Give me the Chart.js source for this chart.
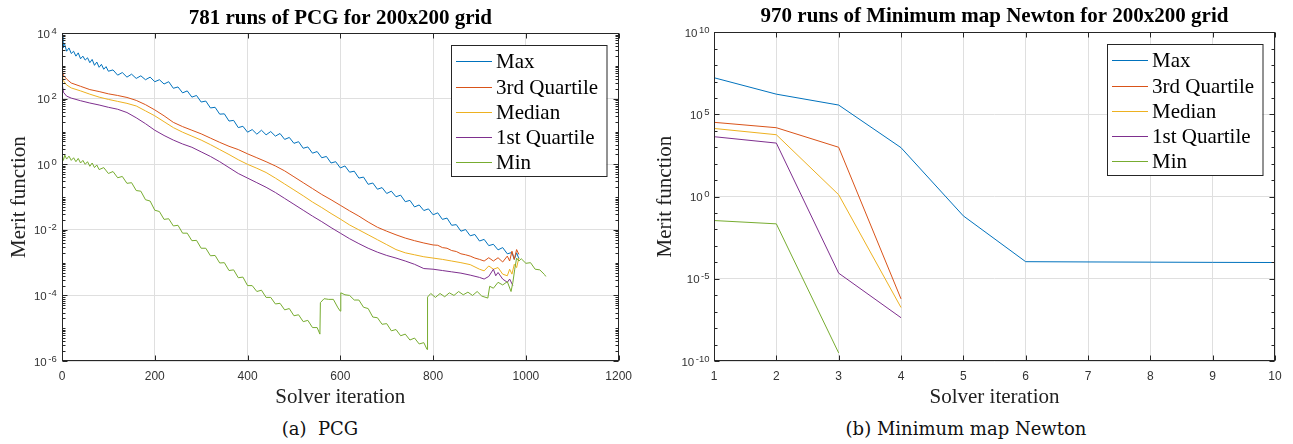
<!DOCTYPE html>
<html>
<head>
<meta charset="utf-8">
<script src="https://cdn.jsdelivr.net/npm/chart.js@4.4.0/dist/chart.umd.min.js"></script>
<style>
  html, body { margin: 0; padding: 0; background: #fff; }
  body { width: 1293px; height: 444px; position: relative; overflow: hidden; }
  #wrapA { position: absolute; left: 0; top: 0; width: 640px; height: 410px; }
  #wrapB { position: absolute; left: 640px; top: 0; width: 653px; height: 410px; }
  .caption { position: absolute; top: 420px; font: 18px/18px "DejaVu Serif", serif; color: #111; text-align: center; white-space: pre; }
</style>
</head>
<body>
<div id="wrapA"><canvas id="pcgChart" width="640" height="410"></canvas></div>
<div id="wrapB"><canvas id="newtonChart" width="653" height="410"></canvas></div>
<div class="caption" style="left:220px;width:200px">(a)  PCG</div>
<div class="caption" style="left:816px;width:300px">(b) Minimum map Newton</div>
<script>
// ---- data ----
// PCG: [solver iteration, log10(merit function)]
const pcgMax = [[0,3.95],[2,3.55],[5,3.7],[10,3.45],[15,3.55],[20,3.38],[25,3.45],[30,3.3],[35,3.4],[40,3.22],[45,3.3],[50,3.18],[55,3.25],[60,3.1],[65,3.2],[70,3.02],[75,3.12],[80,2.96],[85,3.05],[90,2.9],[95,2.98],
  [100,2.84],[110,2.88],[120,2.72],[130,2.8],[140,2.66],[150,2.75],[160,2.62],[170,2.7],[180,2.58],[190,2.66],[200,2.52],[210,2.58],[220,2.45],[230,2.52],[240,2.32],[250,2.36],[260,2.18],[270,2.24],[280,2.05],[290,2.1],
  [300,1.9],[310,1.93],[320,1.72],[330,1.74],[340,1.53],[350,1.54],[360,1.32],[370,1.34],[380,1.12],[390,1.16],[400,0.98],[410,1.06],[420,0.92],[430,1.04],[440,0.9],[450,1.0],[460,0.86],[470,0.94],[480,0.76],[490,0.82],
  [500,0.64],[510,0.69],[520,0.49],[530,0.53],[540,0.34],[550,0.39],[560,0.2],[570,0.24],[580,0.04],[590,0.08],[600,-0.11],[610,-0.05],[620,-0.24],[630,-0.21],[640,-0.42],[650,-0.39],[660,-0.61],[670,-0.57],[680,-0.76],[690,-0.71],
  [700,-0.89],[710,-0.82],[720,-0.99],[730,-0.94],[740,-1.14],[750,-1.1],[760,-1.3],[770,-1.24],[780,-1.41],[790,-1.36],[800,-1.54],[810,-1.48],[820,-1.68],[830,-1.64],[840,-1.86],[850,-1.84],[860,-2.04],[870,-1.99],[880,-2.18],[890,-2.14],
  [900,-2.34],[910,-2.29],[920,-2.48],[930,-2.44],[940,-2.61],[950,-2.54],[960,-2.73],[970,-2.69],[975,-2.9],[980,-2.7],[985,-2.88]];
const pcgQ3 = [[0,2.9],[3,2.72],[10,2.6],[20,2.48],[40,2.38],[60,2.28],[80,2.22],[100,2.15],[120,2.1],[140,2.04],[160,1.95],[180,1.82],[200,1.66],[220,1.48],[240,1.28],[260,1.15],[280,1.04],[300,0.93],[320,0.8],[340,0.67],
  [360,0.55],[380,0.45],[400,0.32],[420,0.2],[440,0.08],[460,-0.05],[480,-0.2],[500,-0.38],[520,-0.56],[540,-0.74],[560,-0.92],[580,-1.08],[600,-1.25],[620,-1.42],[640,-1.58],[660,-1.76],[680,-1.92],[700,-2.04],[720,-2.15],[740,-2.25],
  [760,-2.33],[780,-2.4],[800,-2.46],[810,-2.47],[820,-2.54],[830,-2.56],[840,-2.63],[850,-2.66],[860,-2.73],[870,-2.76],[880,-2.8],[890,-2.86],[900,-2.9],[910,-2.95],[920,-2.85],[930,-2.95],[940,-2.85],[950,-2.98],[960,-2.8],[965,-2.95],
  [970,-2.65],[975,-2.9],[980,-2.6],[985,-2.75]];
const pcgMedian = [[0,2.75],[3,2.55],[10,2.42],[20,2.33],[40,2.24],[60,2.14],[80,2.05],[100,1.98],[120,1.92],[140,1.86],[160,1.78],[180,1.63],[200,1.48],[220,1.3],[240,1.12],[260,0.98],[280,0.86],[300,0.74],[320,0.6],[340,0.45],
  [360,0.3],[380,0.14],[400,0.0],[420,-0.12],[440,-0.25],[460,-0.42],[480,-0.6],[500,-0.78],[520,-0.96],[540,-1.15],[560,-1.32],[580,-1.5],[600,-1.67],[620,-1.85],[640,-2.0],[660,-2.15],[680,-2.3],[700,-2.45],[720,-2.6],[740,-2.7],
  [760,-2.76],[780,-2.82],[800,-2.86],[820,-2.9],[840,-2.95],[860,-3.0],[880,-3.06],[900,-3.2],[910,-3.25],[920,-3.1],[930,-3.2],[940,-3.15],[950,-3.35],[960,-3.4],[965,-3.2],[970,-3.35],[975,-3.05],[980,-3.15],[985,-2.85]];
const pcgQ1 = [[0,2.5],[3,2.2],[10,2.08],[20,2.02],[40,1.94],[60,1.87],[80,1.81],[100,1.74],[120,1.68],[140,1.58],[160,1.42],[180,1.24],[200,1.04],[220,0.88],[240,0.74],[260,0.62],[280,0.52],[300,0.38],[320,0.24],[340,0.08],
  [360,-0.1],[380,-0.28],[400,-0.42],[420,-0.56],[440,-0.7],[460,-0.86],[480,-1.04],[500,-1.22],[520,-1.4],[540,-1.58],[560,-1.75],[580,-1.93],[600,-2.1],[620,-2.27],[640,-2.42],[660,-2.56],[680,-2.68],[700,-2.78],[720,-2.86],[740,-2.95],
  [760,-3.05],[780,-3.18],[800,-3.2],[820,-3.24],[840,-3.28],[860,-3.32],[880,-3.38],[900,-3.45],[910,-3.5],[920,-3.42],[930,-3.2],[935,-3.4],[940,-3.3],[950,-3.5],[960,-3.6],[965,-3.5],[972,-3.7]];
const pcgMin = [[0,0.32],[3,0.12],[6,0.28],[10,0.16],[15,0.25],[20,0.12],[25,0.2],[30,0.08],[35,0.18],[40,0.04],[45,0.12],[50,0.0],[55,0.08],[60,-0.06],[65,0.04],[70,-0.1],[75,-0.02],[80,-0.16],[90,-0.1],
  [100,-0.28],[110,-0.22],[120,-0.41],[130,-0.37],[140,-0.58],[150,-0.56],[160,-0.8],[170,-0.82],[180,-1.08],[190,-1.12],[200,-1.4],[210,-1.44],[220,-1.68],[230,-1.66],[240,-1.88],[250,-1.86],[260,-2.1],[270,-2.1],[280,-2.33],[290,-2.32],
  [300,-2.56],[310,-2.56],[320,-2.79],[330,-2.78],[340,-3.01],[350,-3.0],[360,-3.24],[370,-3.22],[380,-3.46],[390,-3.44],[400,-3.7],[410,-3.7],[420,-3.88],[430,-3.84],[440,-4.06],[450,-4.06],[460,-4.26],[470,-4.24],[480,-4.44],[490,-4.4],
  [500,-4.62],[510,-4.59],[520,-4.8],[530,-4.76],[540,-4.98],[550,-4.98],[556,-5.18],[557,-4.22],[565,-4.1],[575,-4.12],[585,-4.12],[595,-4.38],[600,-4.48],[601,-3.92],[610,-3.98],[620,-4.0],[630,-4.14],[640,-4.14],[650,-4.36],[660,-4.4],
  [670,-4.66],[680,-4.68],[690,-4.88],[700,-4.86],[710,-5.08],[720,-5.04],[730,-5.23],[740,-5.18],[750,-5.36],[760,-5.3],[770,-5.48],[780,-5.44],[787,-5.65],[788,-4.05],[795,-3.94],[805,-4.06],[815,-3.94],[825,-4.04],[835,-3.92],[845,-4.0],
  [855,-3.88],[865,-3.98],[875,-3.9],[885,-4.0],[895,-3.88],[905,-4.02],[918,-4.08],[922,-3.72],[930,-3.78],[940,-3.6],[950,-3.68],[960,-3.58],[968,-3.88],[972,-3.6],[976,-3.2],[980,-2.86],[985,-2.95],[990,-2.88],[1000,-3.02],[1010,-3.0],
  [1020,-3.2],[1030,-3.22],[1040,-3.36],[1043,-3.42]];
const pcgXTicks = [0, 200, 400, 600, 800, 1000, 1200];
const pcgYExponents = [-6, -4, -2, 0, 2, 4];

// Minimum map Newton
const newtonIter = [1, 2, 3, 4, 5, 6, 7, 8, 9, 10];
const newtonMax = [1.7e7, 1.7e6, 3.7e5, 950, 0.067, 1.1e-4, 1.06e-4, 1.03e-4, 1.0e-4, 0.98e-4];
const newtonQ3 = [3.3e4, 1.55e4, 1000, 6e-7];
const newtonMedian = [1.4e4, 5.8e3, 1.3, 1.8e-7];
const newtonQ1 = [4.4e3, 1.8e3, 2.2e-5, 4.3e-8];
const newtonMin = [0.035, 0.022, 3.1e-10];
const newtonYExponents = [-10, -5, 0, 5, 10];

const seriesNames = ["Max", "3rd Quartile", "Median", "1st Quartile", "Min"];
const seriesColors = ["#0072BD", "#D95319", "#EDB120", "#7E2F8E", "#77AC30"];

// ---- helpers ----
const axisColor = "#262626";
const gridColor = "#dfdfdf";

function frameAndLegend(yMajorExps, yMinorVals, yLabelGap) {
  return {
    id: "frameAndLegend",
    afterDraw(chart) {
      const { ctx, chartArea: a, scales } = chart;
      const xs = scales.x, ys = scales.y;
      const L = Math.round(a.left) + 0.5, R = Math.round(a.right) - 0.5;
      const T = Math.round(a.top) + 0.5, B = Math.round(a.bottom) - 0.5;
      ctx.save();
      ctx.strokeStyle = axisColor;
      ctx.lineWidth = 1;
      ctx.beginPath();
      // x ticks, inward at top and bottom
      xs.ticks.forEach(t => {
        const px = Math.round(xs.getPixelForValue(t.value)) + 0.5;
        ctx.moveTo(px, B); ctx.lineTo(px, B - 5);
        ctx.moveTo(px, T); ctx.lineTo(px, T + 5);
      });
      // y ticks, inward on both sides
      const addY = (v, len) => {
        const py = Math.round(ys.getPixelForValue(v)) + 0.5;
        ctx.moveTo(L, py); ctx.lineTo(L + len, py);
        ctx.moveTo(R, py); ctx.lineTo(R - len, py);
      };
      yMajorExps.forEach(e => addY(Math.pow(10, e), 5));
      yMinorVals.forEach(v => addY(v, 3));
      ctx.stroke();
      ctx.strokeRect(L, T, R - L, B - T);

      // y tick labels as 10 with a raised exponent
      ctx.fillStyle = "#333";
      ctx.textBaseline = "alphabetic";
      ctx.textAlign = "left";
      yMajorExps.forEach(e => {
        const py = ys.getPixelForValue(Math.pow(10, e));
        const ex = String(e);
        ctx.font = '9.5px "Liberation Sans"';
        const we = ctx.measureText(ex).width;
        const xr = a.left - yLabelGap;
        ctx.fillText(ex, xr - we, py + 0.5);
        ctx.font = '11.5px "Liberation Sans"';
        const wb = ctx.measureText("10").width;
        ctx.fillText("10", xr - we - 1.5 - wb, py + 4.5);
      });

      // legend box in the upper right corner
      const w = 155.5, h = 131;
      const x0 = Math.round(a.right - 12.3 - w), y0 = Math.round(a.top + 11.5);
      ctx.fillStyle = "#fff";
      ctx.fillRect(x0, y0, w, h);
      ctx.strokeStyle = axisColor;
      ctx.strokeRect(x0 + 0.5, y0 + 0.5, w, h);
      chart.data.datasets.forEach((ds, i) => {
        const y = Math.round(y0 + 16.3 + i * 25.2) + 0.5;
        ctx.strokeStyle = ds.borderColor;
        ctx.beginPath();
        ctx.moveTo(x0 + 5, y); ctx.lineTo(x0 + 41, y);
        ctx.stroke();
        ctx.fillStyle = "#000";
        ctx.font = '21px "Liberation Serif"';
        ctx.fillText(ds.label, x0 + 45, y + 6);
      });
      ctx.restore();
    }
  };
}

function makeDatasets(list) {
  return list.map((pts, i) => ({
    label: seriesNames[i],
    data: pts,
    borderColor: seriesColors[i],
    backgroundColor: seriesColors[i],
    borderWidth: 1,
    pointRadius: 0,
    tension: 0,
    fill: false,
    order: list.length - i
  }));
}

function baseOptions(title, xOpts, yOpts, yWidth, rightPad, titlePad, yTitlePad) {
  return {
    responsive: false,
    animation: false,
    layout: { padding: { left: 0, right: rightPad, top: 0, bottom: 0 } },
    plugins: {
      legend: { display: false },
      tooltip: { enabled: false },
      title: {
        display: true, text: title, fullSize: false, color: "#000",
        font: { family: "Liberation Serif", size: 21, weight: "bold" },
        padding: titlePad
      }
    },
    scales: {
      x: Object.assign({
        type: "linear",
        grid: { color: gridColor, drawTicks: false },
        border: { display: false },
        ticks: {
          font: { family: "Liberation Sans", size: 12 }, color: "#333", padding: 8,
          maxRotation: 0, autoSkip: false, callback: v => String(v)
        },
        title: { display: true, text: "Solver iteration", color: "#222", font: { family: "Liberation Serif", size: 21 }, padding: { top: 0, bottom: 0 } },
        afterFit: s => { s.height = 49; }
      }, xOpts),
      y: Object.assign({
        type: "logarithmic",
        grid: { color: gridColor, drawTicks: false },
        border: { display: false },
        ticks: { display: false, autoSkip: false },
        title: { display: true, text: "Merit function", color: "#222", font: { family: "Liberation Serif", size: 21 }, padding: { top: yTitlePad, bottom: 0 } },
        afterFit: s => { s.width = yWidth; }
      }, yOpts)
    }
  };
}

// ---- left: PCG ----
const pcgMinor = [];
for (let e = -6; e < 4; e++) {
  if (e % 2 !== 0) pcgMinor.push(Math.pow(10, e));
  for (let m = 2; m <= 9; m++) pcgMinor.push(m * Math.pow(10, e));
}
const toXY = pts => pts.map(p => ({ x: p[0], y: Math.pow(10, p[1]) }));

new Chart(document.getElementById("pcgChart"), {
  type: "line",
  data: { datasets: makeDatasets([pcgMax, pcgQ3, pcgMedian, pcgQ1, pcgMin].map(toXY)) },
  options: baseOptions(
    "781 runs of PCG for 200x200 grid",
    { min: 0, max: 1200, afterBuildTicks: s => { s.ticks = pcgXTicks.map(v => ({ value: v })); } },
    { min: 1e-6, max: 1e4, afterBuildTicks: s => { s.ticks = pcgYExponents.map(e => ({ value: Math.pow(10, e) })); } },
    62, 20, { top: 6, bottom: 2 }, 7.3
  ),
  plugins: [frameAndLegend(pcgYExponents, pcgMinor, 5.3)]
});

// ---- right: Minimum map Newton ----
const newtonMinor = [];
for (let e = -10; e <= 10; e++) if (e % 5 !== 0) newtonMinor.push(Math.pow(10, e));
const withIter = vals => vals.map((v, i) => ({ x: newtonIter[i], y: v }));

new Chart(document.getElementById("newtonChart"), {
  type: "line",
  data: { datasets: makeDatasets([newtonMax, newtonQ3, newtonMedian, newtonQ1, newtonMin].map(withIter)) },
  options: baseOptions(
    "970 runs of Minimum map Newton for 200x200 grid",
    { min: 1, max: 10, afterBuildTicks: s => { s.ticks = newtonIter.map(v => ({ value: v })); } },
    { min: 1e-10, max: 1e10, afterBuildTicks: s => { s.ticks = newtonYExponents.map(e => ({ value: Math.pow(10, e) })); } },
    74, 18, { top: 4, bottom: 3 }, 13.3
  ),
  plugins: [frameAndLegend(newtonYExponents, newtonMinor, 4.5)]
});
</script>
</body>
</html>
